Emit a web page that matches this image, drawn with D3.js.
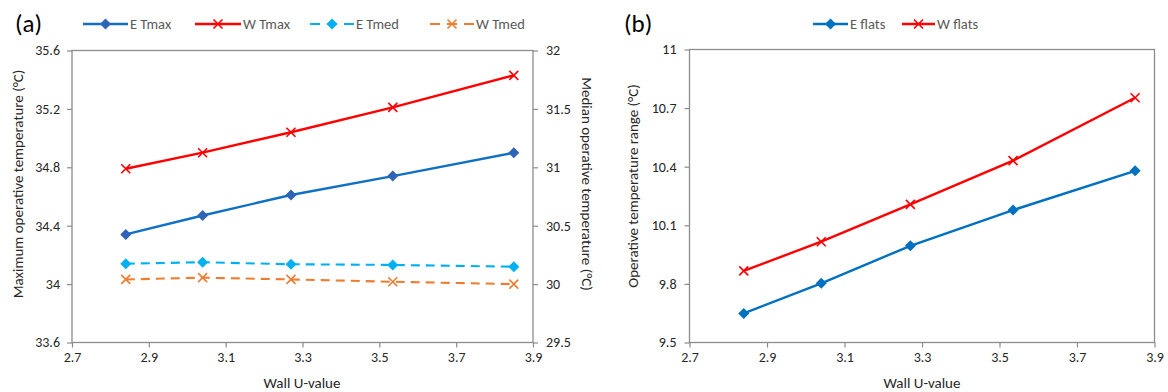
<!DOCTYPE html>
<html>
<head>
<meta charset="utf-8">
<script src="https://cdn.jsdelivr.net/npm/d3@7"></script>
<style>
  body { margin: 0; background: #fff; }
  text { font-family: Carlito, Calibri, Lato, sans-serif; }
</style>
</head>
<body>
<svg id="chart" width="1168" height="392"></svg>
<script>
// wall U-values (shared by both panels)
var uValues = [2.84, 3.04, 3.27, 3.535, 3.85];

// panel (a)
var eTmax = [34.34, 34.47, 34.61, 34.74, 34.90];
var wTmax = [34.79, 34.90, 35.04, 35.21, 35.43];
var eTmed = [30.175, 30.187, 30.17, 30.164, 30.149];
var wTmed = [30.04, 30.055, 30.04, 30.02, 30.00];

// panel (b)
var eFlats = [9.649, 9.803, 9.995, 10.178, 10.379];
var wFlats = [9.867, 10.016, 10.207, 10.431, 10.753];

var xTicks = [2.7, 2.9, 3.1, 3.3, 3.5, 3.7, 3.9];
var leftTicksA = [33.6, 34, 34.4, 34.8, 35.2, 35.6];
var rightTicksA = [29.5, 30, 30.5, 31, 31.5, 32];
var leftTicksB = [9.5, 9.8, 10.1, 10.4, 10.7, 11];

var axisColor = '#8c8c8c';
var svg = d3.select('#chart');

function styleAxis(g) {
  g.select('.domain').remove();
  g.selectAll('.tick line').attr('stroke', axisColor).attr('stroke-width', 1.2);
  g.selectAll('.tick text').attr('fill', '#262626').style('font-size', '14px');
}

function diamond(sel, x, y, fill) {
  sel.append('path')
    .attr('d', 'M' + x + ',' + (y - 5.5) + 'L' + (x + 5.5) + ',' + y + 'L' + x + ',' + (y + 5.5) + 'L' + (x - 5.5) + ',' + y + 'Z')
    .attr('fill', fill);
}

function cross(sel, x, y, col) {
  var s = 4.5;
  sel.append('path')
    .attr('d', 'M' + (x - s) + ',' + (y - s) + 'L' + (x + s) + ',' + (y + s) + 'M' + (x - s) + ',' + (y + s) + 'L' + (x + s) + ',' + (y - s))
    .attr('stroke', col).attr('stroke-width', 1.6).attr('fill', 'none');
}

function drawSeries(g, x, y, vals, s) {
  var line = d3.line()
    .x(function (d, i) { return x(uValues[i]); })
    .y(function (d) { return y(d); });
  g.append('path')
    .attr('d', line(vals))
    .attr('fill', 'none')
    .attr('stroke', s.color)
    .attr('stroke-width', s.width || 2.4)
    .attr('stroke-dasharray', s.dash || null);
  vals.forEach(function (v, i) {
    if (s.marker == 'diamond') diamond(g, x(uValues[i]), y(v), s.markerColor || s.color);
    else cross(g, x(uValues[i]), y(v), s.markerColor || s.color);
  });
}

function legendItem(g, x0, x1, y, s, label) {
  // dashed legend samples: dash - gap - marker - gap - dash
  g.append('line')
    .attr('x1', x0).attr('x2', x1).attr('y1', y).attr('y2', y)
    .attr('stroke', s.color).attr('stroke-width', s.width || 2.4)
    .attr('stroke-dasharray', s.dash ? '10,7' : null);
  var mx = (x0 + x1) / 2;
  if (s.marker == 'diamond') diamond(g, mx, y, s.markerColor || s.color);
  else cross(g, mx, y, s.markerColor || s.color);
  g.append('text').attr('x', x1 + 2).attr('y', y).attr('dy', '0.35em')
    .attr('fill', '#595959').style('font-size', '14.5px').text(label);
}

var sETmax = { color: '#1170c4', markerColor: '#2e64b5', marker: 'diamond' };
var sWTmax = { color: '#ff0000', marker: 'cross' };
var sETmed = { color: '#00b0f0', marker: 'diamond', dash: '9,6', width: 2.1 };
var sWTmed = { color: '#ed7d31', marker: 'cross', dash: '9,6', width: 2.1 };
var sEFlats = { color: '#0070c0', marker: 'diamond' };
var sWFlats = { color: '#ff0000', marker: 'cross' };

// ---------- panel (a) ----------
var plotTop = 50.5, plotBottom = 342.5;
var titleMid = 184;
var xa = d3.scaleLinear().domain([2.7, 3.9]).range([72, 533]);
var ya = d3.scaleLinear().domain([33.6, 35.6]).range([plotBottom, plotTop]);
var ya2 = d3.scaleLinear().domain([29.5, 32]).range([plotBottom, plotTop]);

var ga = svg.append('g');
ga.append('rect').attr('x', 72).attr('y', plotTop).attr('width', 533 - 72).attr('height', plotBottom - plotTop)
  .attr('fill', 'none').attr('stroke', axisColor).attr('stroke-width', 1.3);

ga.append('g').attr('transform', 'translate(0,' + plotBottom + ')')
  .call(d3.axisBottom(xa).tickValues(xTicks).tickSize(5).tickPadding(5).tickFormat(d3.format('.1f')))
  .call(styleAxis);
ga.append('g').attr('transform', 'translate(72,0)')
  .call(d3.axisLeft(ya).tickValues(leftTicksA).tickSize(5).tickPadding(7).tickFormat(function (d) { return +d.toFixed(1); }))
  .call(styleAxis);
ga.append('g').attr('transform', 'translate(533,0)')
  .call(d3.axisRight(ya2).tickValues(rightTicksA).tickSize(5).tickPadding(8).tickFormat(function (d) { return +d.toFixed(1); }))
  .call(styleAxis);

drawSeries(ga, xa, ya2, eTmed, sETmed);
drawSeries(ga, xa, ya2, wTmed, sWTmed);
drawSeries(ga, xa, ya, eTmax, sETmax);
drawSeries(ga, xa, ya, wTmax, sWTmax);

ga.append('text').attr('transform', 'translate(23,' + titleMid + ') rotate(-90)')
  .attr('text-anchor', 'middle').style('font-size', '15px').attr('fill', '#262626')
  .text('Maximum operative temperature (°C)');
ga.append('text').attr('transform', 'translate(582,' + titleMid + ') rotate(90)')
  .attr('text-anchor', 'middle').style('font-size', '15px').attr('fill', '#262626')
  .text('Median operative temperature (°C)');
ga.append('text').attr('x', 302).attr('y', 388).attr('text-anchor', 'middle')
  .style('font-size', '15px').attr('fill', '#262626').text('Wall U-value');
ga.append('text').attr('x', 15).attr('y', 32).style('font-size', '25px').attr('fill', '#000').text('(a)');

legendItem(ga, 83, 128, 24, sETmax, 'E Tmax');
legendItem(ga, 195, 241, 24, sWTmax, 'W Tmax');
legendItem(ga, 310, 354, 24, sETmed, 'E Tmed');
legendItem(ga, 430, 474, 24, sWTmed, 'W Tmed');

// ---------- panel (b) ----------
var xb = d3.scaleLinear().domain([2.7, 3.9]).range([689.5, 1154.5]);
var yb = d3.scaleLinear().domain([9.5, 11]).range([plotBottom, plotTop - 1]);

var gb = svg.append('g');
gb.append('rect').attr('x', 689.5).attr('y', plotTop - 1).attr('width', 1154.5 - 689.5).attr('height', plotBottom - plotTop + 1)
  .attr('fill', 'none').attr('stroke', axisColor).attr('stroke-width', 1.3);

gb.append('g').attr('transform', 'translate(0,' + plotBottom + ')')
  .call(d3.axisBottom(xb).tickValues(xTicks).tickSize(5).tickPadding(5).tickFormat(d3.format('.1f')))
  .call(styleAxis);
gb.append('g').attr('transform', 'translate(689.5,0)')
  .call(d3.axisLeft(yb).tickValues(leftTicksB).tickSize(5).tickPadding(8).tickFormat(function (d) { return +d.toFixed(1); }))
  .call(styleAxis);

drawSeries(gb, xb, yb, eFlats, sEFlats);
drawSeries(gb, xb, yb, wFlats, sWFlats);

gb.append('text').attr('transform', 'translate(638,' + (titleMid + 2) + ') rotate(-90)')
  .attr('text-anchor', 'middle').style('font-size', '15px').attr('fill', '#262626')
  .text('Operative temperature range (°C)');
gb.append('text').attr('x', 922).attr('y', 388).attr('text-anchor', 'middle')
  .style('font-size', '15px').attr('fill', '#262626').text('Wall U-value');
gb.append('text').attr('x', 624).attr('y', 32).style('font-size', '25px').attr('fill', '#000').text('(b)');

legendItem(gb, 813, 848, 24, sEFlats, 'E flats');
legendItem(gb, 902, 935, 24, sWFlats, 'W flats');
</script>
</body>
</html>
